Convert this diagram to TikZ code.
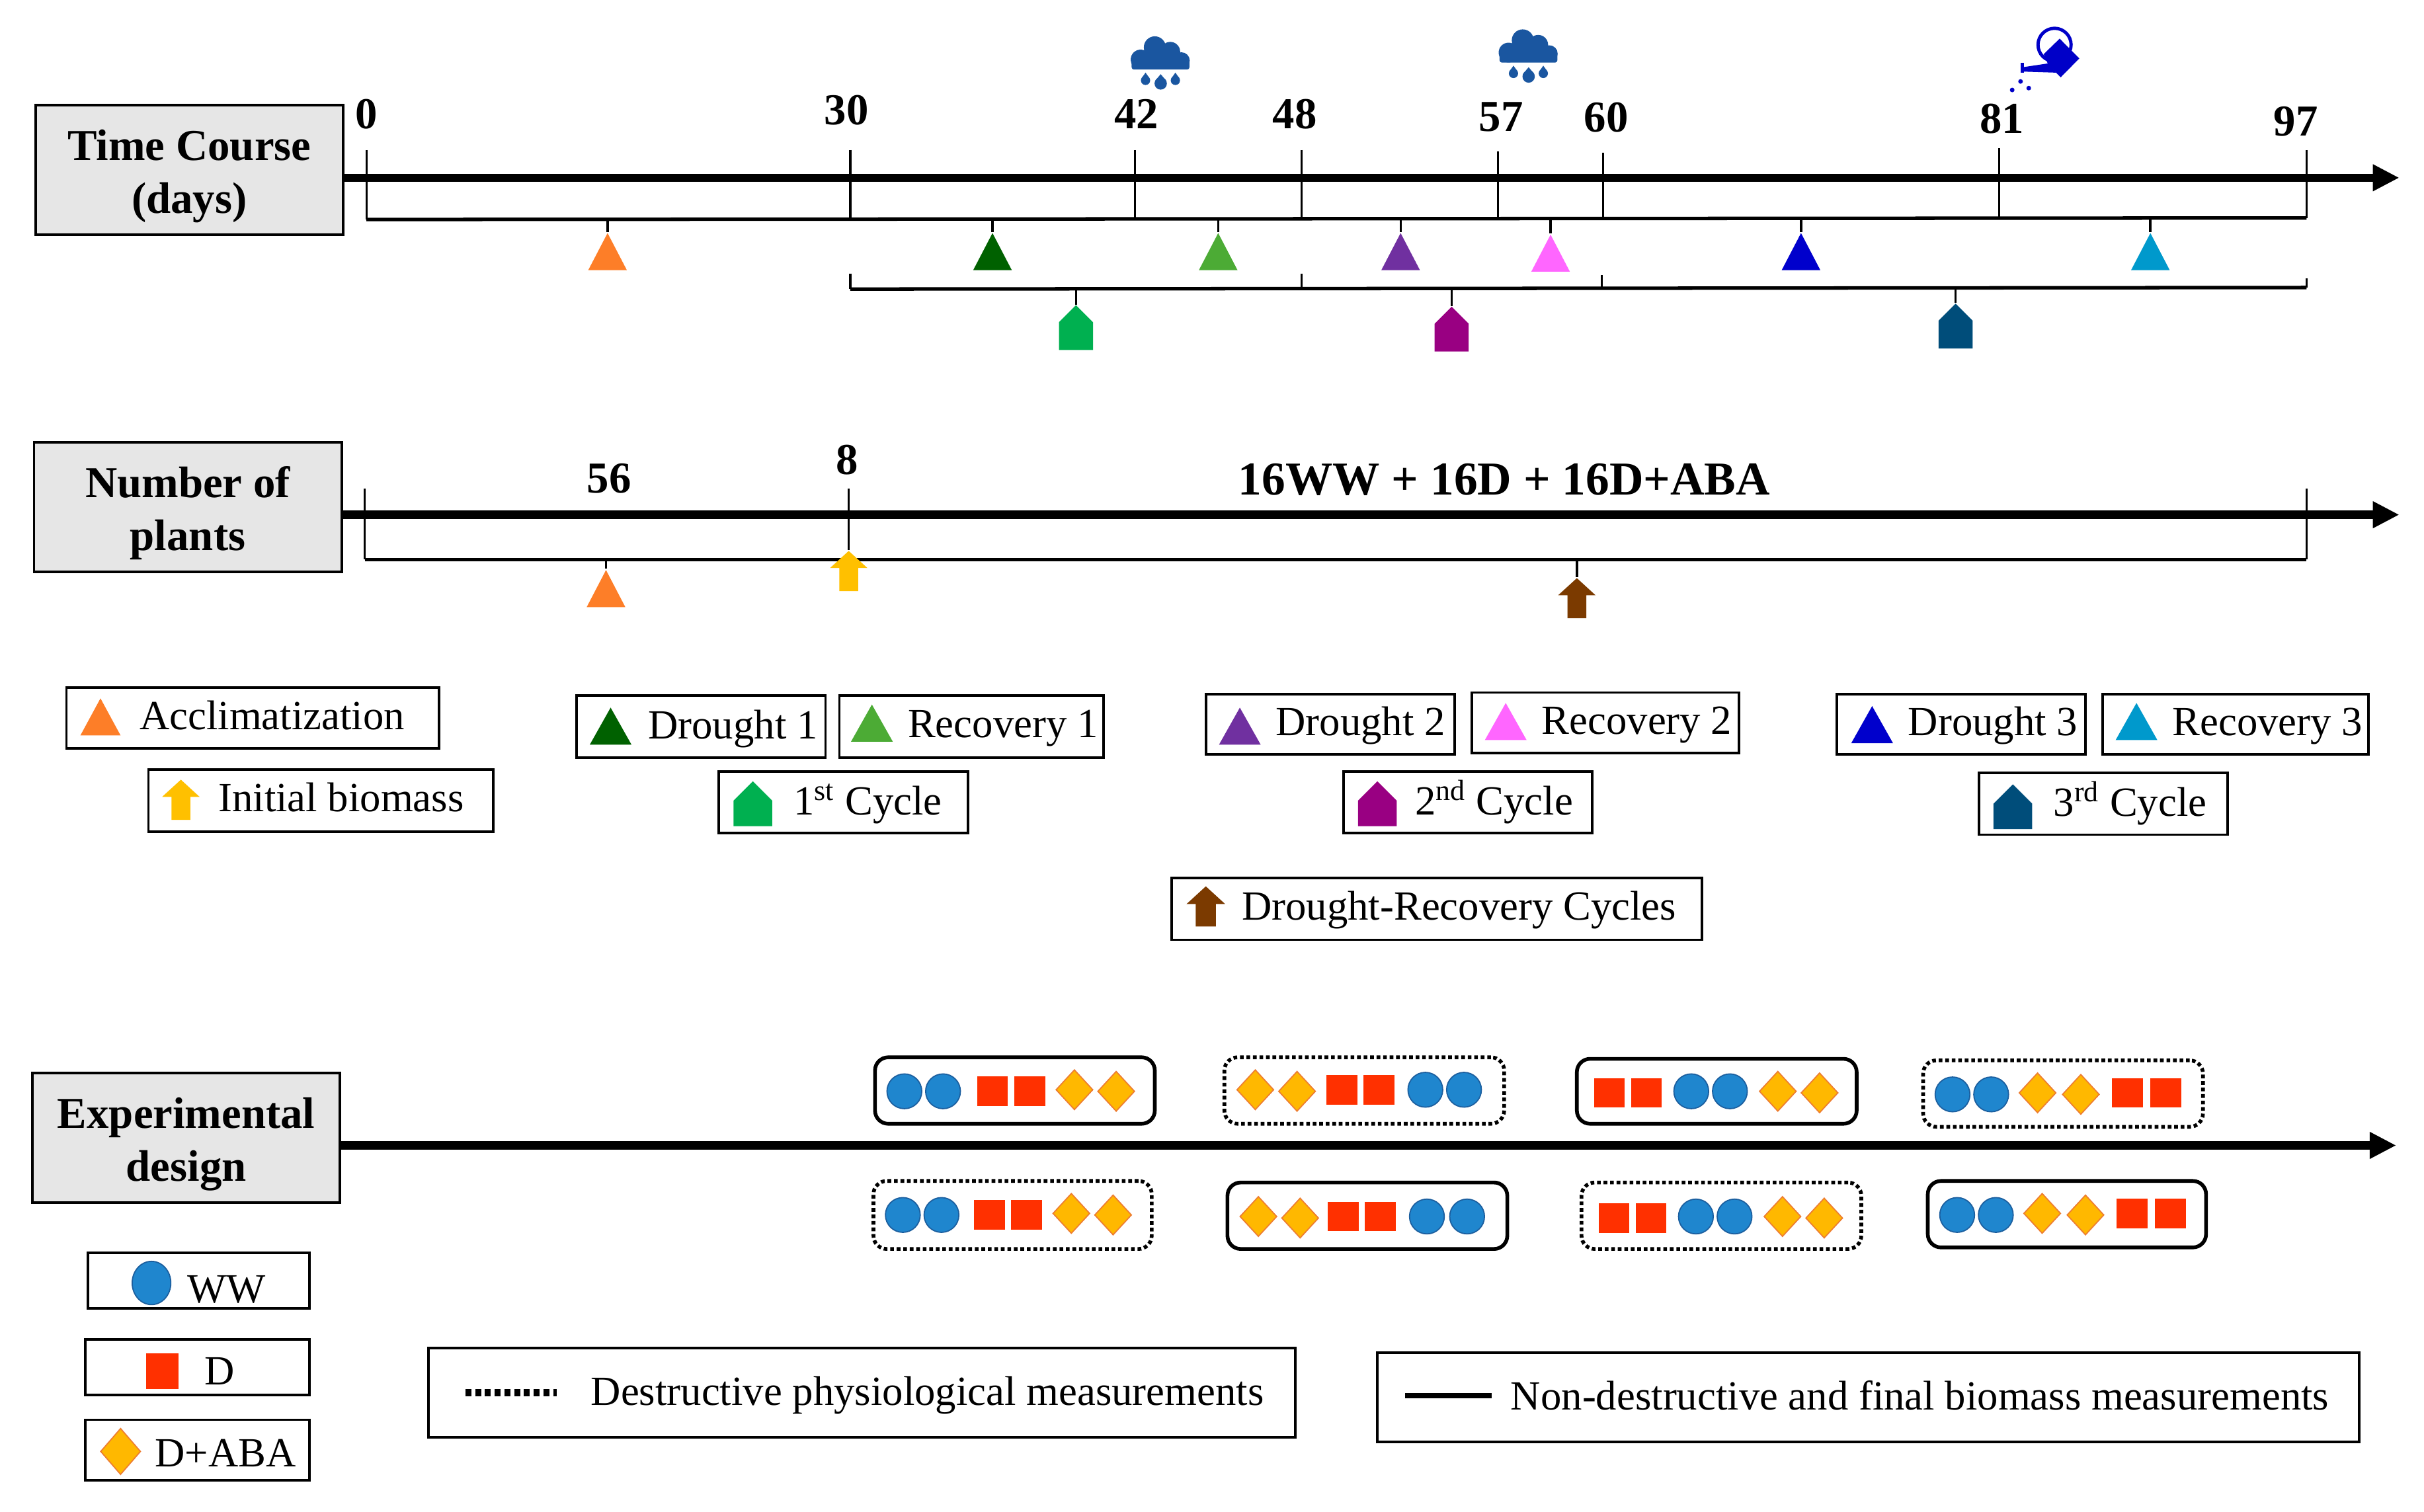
\documentclass[tikz,border=0pt]{standalone}
\usepackage{fontspec}
\setmainfont{Liberation Serif}
\usetikzlibrary{arrows.meta,shapes.geometric,shapes.arrows}
\definecolor{headgray}{HTML}{E6E6E6}
\definecolor{acclim}{HTML}{FD7E28}
\definecolor{droughtA}{HTML}{006100}
\definecolor{recovA}{HTML}{4CAB35}
\definecolor{droughtB}{HTML}{7030A0}
\definecolor{recovB}{HTML}{FF66FF}
\definecolor{droughtC}{HTML}{0000CC}
\definecolor{recovC}{HTML}{0099CC}
\definecolor{cycleA}{HTML}{00B050}
\definecolor{cycleB}{HTML}{990082}
\definecolor{cycleC}{HTML}{004D7A}
\definecolor{biomass}{HTML}{FFC000}
\definecolor{drcycle}{HTML}{7B3A00}
\definecolor{wwblue}{HTML}{1F86CE}
\definecolor{wwedge}{HTML}{1B5E9E}
\definecolor{dred}{HTML}{FF3000}
\definecolor{abayel}{HTML}{FFB800}
\definecolor{abaedge}{HTML}{ED7D31}
\definecolor{rainblue}{HTML}{1A56A0}
\definecolor{canblue}{HTML}{0000C8}
\newcommand{\headlift}{\rule{0pt}{18.7pt}}
\tikzset{
  box/.style 2 args={minimum width=#1*0.02338cm, minimum height=#2*0.02338cm, inner sep=0pt},
  headbox/.style={draw, fill=headgray, line width=1.1pt, align=center, font=\bfseries\fontsize{19}{22.7}\selectfont},
  legbox/.style={draw, line width=1.1pt},
  legtext/.style={anchor=base west, inner sep=0pt, font=\fontsize{17.85}{22}\selectfont},
  numtext/.style={anchor=base, inner sep=0pt, font=\bfseries\fontsize{19}{23}\selectfont},
  axisline/.style={line width=3.6pt, -{Triangle[length=4mm,width=3.8mm]}},
  tickline/.style={line width=0.9pt},
  bracketline/.style={line width=1.5pt},
  stemline/.style={line width=1pt},
  trimark/.style={isosceles triangle, isosceles triangle stretches, shape border rotate=90, inner sep=0pt, minimum width=25*0.02338cm, minimum height=24*0.02338cm, anchor=apex},
  housemark/.style={single arrow, shape border rotate=90, single arrow head extend=0pt, single arrow head indent=0pt, single arrow tip angle=90, inner sep=0pt, minimum width=22*0.02338cm, minimum height=29*0.02338cm, anchor=tip},
  upmark/.style={single arrow, shape border rotate=90, single arrow head extend=6*0.02338cm, single arrow head indent=0pt, single arrow tip angle=95, inner sep=5.8*0.02338cm, minimum height=26*0.02338cm, anchor=tip},
  solidgrp/.style={draw, rounded corners=2mm, line width=1.6pt},
  dotgrp/.style={draw, rounded corners=2mm, line width=1.6pt, dash pattern=on 1.6pt off 1.2pt},
  wwmark/.style={circle, draw=wwedge, line width=0.5pt, fill=wwblue, inner sep=0pt, minimum size=22.5*0.02338cm},
  dmark/.style={rectangle, fill=dred, box={20}{19}},
  abamark/.style={diamond, draw=abaedge, line width=0.5pt, fill=abayel, box={24}{26}},
  rainmark/.pic={
    \fill[rainblue] (-3,-9.4) circle (7.1) (7,-6.5) circle (6.4) (-12.2,-1.5) circle (6.4) (14.2,-0.8) circle (5.4);
    \fill[rainblue] (-10,-7) rectangle (12,2);
    \fill[rainblue, rounded corners=1pt] (-18,-2) rectangle (19.4,5);
    \fill[rainblue] (-9,12) circle (3) (0.8,14) circle (4) (10.3,12) circle (3);
    \fill[rainblue] (-11.5,10.5) -- (-9,7) -- (-6.5,10.5) -- cycle;
    \fill[rainblue] (-2.6,12) -- (0.8,8) -- (4.2,12) -- cycle;
    \fill[rainblue] (7.8,10.5) -- (10.3,7) -- (12.8,10.5) -- cycle;
  },
  canmark/.pic={
    \draw[canblue, line width=1.4pt] (-1,-6) circle (10.7);
    \fill[canblue] (2.3,-10) -- (15,2.8) -- (3,15) -- (-5,7) -- (-8,0) -- cycle;
    \fill[canblue] (-5,6) -- (-21.7,8.5) -- (-21.7,11.3) -- (0,12) -- cycle;
    \fill[canblue] (-23,5.6) rectangle (-21,12);
    \fill[canblue] (-23,17.7) circle (1.5) (-28.4,23.2) circle (1.5) (-17.7,22) circle (1.5);
  }
}
\begin{document}
\begin{tikzpicture}[x=0.02338cm, y=-0.02338cm]
    \useasboundingbox (0,0) rectangle (1568,977.8);
    % time course
    \node[headbox, box={199}{84}] (timebox) at (122.5,110) {\headlift Time Course\\(days)};
    \coordinate (timeend) at (1552,115);
    \draw [axisline] (timebox.east |- timeend) -- (timeend);
    \node[numtext] (n0) at (237,83) {0};
    \node[numtext] (n30) at (547.5,80.6) {30};
    \node[numtext] (n42) at (735,83) {42};
    \node[numtext] (n48) at (837.5,83) {48};
    \node[numtext] (n57) at (971,85) {57};
    \node[numtext] (n60) at (1039,85.5) {60};
    \node[numtext] (n81) at (1295,86) {81};
    \node[numtext] (n97) at (1485,88) {97};
    \coordinate (t0) at (237,97);
    \coordinate (t30) at (550,97);
    \coordinate (t42) at (734,97);
    \coordinate (t48) at (842,97);
    \coordinate (t57) at (969,98);
    \coordinate (t60) at (1037,99);
    \coordinate (t81) at (1293,96);
    \coordinate (t97) at (1492,97);
    \coordinate (b0) at (237,142);
    \coordinate (b30) at (550,142);
    \coordinate (b42) at (734,142);
    \coordinate (b48) at (842,142);
    \coordinate (b57) at (969,141);
    \coordinate (b60) at (1037,141);
    \coordinate (b81) at (1293,141);
    \coordinate (b97) at (1492,141);
    \draw [tickline] (t0) to (b0);
    \draw [tickline] (t30) to (b30);
    \draw [tickline] (t42) to (b42);
    \draw [tickline] (t48) to (b48);
    \draw [tickline] (t57) to (b57);
    \draw [tickline] (t60) to (b60);
    \draw [tickline] (t81) to (b81);
    \draw [tickline] (t97) to (b97);
    \draw [bracketline] (b0) to (b97);
    % phases below the time course
    \node[trimark, fill=acclim] (accl) at (393,150) {};
    \node[trimark, fill=droughtA] (dra) at (642,150) {};
    \node[trimark, fill=recovA] (rea) at (788,150) {};
    \node[trimark, fill=droughtB] (drb) at (906,150) {};
    \node[trimark, fill=recovB] (reb) at (1003,151) {};
    \node[trimark, fill=droughtC] (drc) at (1165,150) {};
    \node[trimark, fill=recovC] (rec) at (1391,150) {};
    \draw [stemline] (393,142) to (accl.apex);
    \draw [stemline] (642,142) to (dra.apex);
    \draw [stemline] (788,142) to (rea.apex);
    \draw [stemline] (906,141) to (drb.apex);
    \draw [stemline] (1003,141) to (reb.apex);
    \draw [stemline] (1165,141) to (drc.apex);
    \draw [stemline] (1391,141) to (rec.apex);
    % cycles
    \coordinate (ca) at (550,177);
    \coordinate (cb) at (842,177);
    \coordinate (cc) at (1036,178);
    \coordinate (cd) at (1492,180);
    \coordinate (da) at (550,187);
    \coordinate (db) at (842,187);
    \coordinate (dc) at (1036,186);
    \coordinate (dd) at (1492,186);
    \draw [tickline] (ca) to (da);
    \draw [tickline] (cb) to (db);
    \draw [tickline] (cc) to (dc);
    \draw [tickline] (cd) to (dd);
    \draw [bracketline] (da) to (dd);
    \node[housemark, fill=cycleA] (cya) at (696,197) {};
    \node[housemark, fill=cycleB] (cyb) at (939,198) {};
    \node[housemark, fill=cycleC] (cyc) at (1265,196) {};
    \draw [stemline] (696,187) to (cya.tip);
    \draw [stemline] (939,187) to (cyb.tip);
    \draw [stemline] (1265,186) to (cyc.tip);
    \pic (raina) at (750,40) {rainmark};
    \pic (rainb) at (988,35.5) {rainmark};
    \pic (can) at (1330,35) {canmark};
    % number of plants
    \node[headbox, box={199}{84}] (plantbox) at (121.5,328) {\headlift Number of\\plants};
    \coordinate (plantend) at (1552,333);
    \draw [axisline] (plantbox.east |- plantend) -- (plantend);
    \node[numtext] (p56) at (394,319) {56};
    \node[numtext] (p8) at (548,307) {8};
    \node[numtext, font=\bfseries\fontsize{20.3}{24}\selectfont] (pall) at (973,320) {16WW + 16D + 16D+ABA};
    \coordinate (u0) at (236,316);
    \coordinate (u8) at (549,316);
    \coordinate (u97) at (1492,316);
    \coordinate (v0) at (236,362);
    \coordinate (v97) at (1492,362);
    \draw [tickline] (u0) to (v0);
    \draw [tickline] (u97) to (v97);
    \draw [bracketline] (v0) to (v97);
    \node[trimark, fill=acclim] (acclp) at (392,368) {};
    \node[upmark, fill=biomass] (initp) at (549,356) {};
    \node[upmark, fill=drcycle] (cyclp) at (1020,373.6) {};
    \draw [stemline] (392,362) to (acclp.apex);
    \draw [stemline] (u8) to (initp.tip);
    \draw [stemline] (1020,362) to (cyclp.tip);
    % legend of the phases
    \node[legbox, box={241}{39}] (la) at (163.5,464.5) {};
    \node[trimark, fill=acclim, minimum width=26*0.02338cm] (lam) at (65,451) {};
    \node[legtext] (lat) at (90,472) {Acclimatization};
    \node[legbox, box={223}{40}] (lb) at (207.5,518) {};
    \node[upmark, fill=biomass] (lbm) at (117,504) {};
    \node[legtext] (lbt) at (141,525) {Initial biomass};
    \node[legbox, box={161}{40}] (lc) at (453.5,470) {};
    \node[trimark, fill=droughtA, minimum width=27*0.02338cm] (lcm) at (395,457) {};
    \node[legtext] (lct) at (419,478) {Drought 1};
    \node[legbox, box={171}{40}] (ld) at (628.5,470) {};
    \node[trimark, fill=recovA, minimum width=27*0.02338cm] (ldm) at (564,455) {};
    \node[legtext] (ldt) at (587,477) {Recovery 1};
    \node[legbox, box={161}{40}] (le) at (545.5,519) {};
    \node[housemark, fill=cycleA, minimum width=25*0.02338cm] (lem) at (487,505) {};
    \node[legtext] (let) at (513,527) {1\textsuperscript{st} Cycle};
    \node[legbox, box={161}{39}] (lf) at (860.5,468.5) {};
    \node[trimark, fill=droughtB, minimum width=27*0.02338cm] (lfm) at (802,457) {};
    \node[legtext] (lft) at (825,476) {Drought 2};
    \node[legbox, box={173}{39}] (lg) at (1038.5,467.5) {};
    \node[trimark, fill=recovB, minimum width=27*0.02338cm] (lgm) at (974,454) {};
    \node[legtext] (lgt) at (997,475) {Recovery 2};
    \node[legbox, box={161}{40}] (lh) at (949.5,519) {};
    \node[housemark, fill=cycleB, minimum width=25*0.02338cm] (lhm) at (891,505) {};
    \node[legtext] (lht) at (915,527) {2\textsuperscript{nd} Cycle};
    \node[legbox, box={343}{40}] (li) at (929.5,588) {};
    \node[upmark, fill=drcycle, inner sep=6.2*0.02338cm] (lim) at (780,573) {};
    \node[legtext] (lit) at (803,595) {Drought-Recovery Cycles};
    \node[legbox, box={161}{39}] (lj) at (1268.5,468.5) {};
    \node[trimark, fill=droughtC, minimum width=27*0.02338cm] (ljm) at (1211,456) {};
    \node[legtext] (ljt) at (1234,476) {Drought 3};
    \node[legbox, box={172}{39}] (lk) at (1446,468.5) {};
    \node[trimark, fill=recovC, minimum width=27*0.02338cm] (lkm) at (1382,454) {};
    \node[legtext] (lkt) at (1405,476) {Recovery 3};
    \node[legbox, box={161}{40}] (ll) at (1360.5,520) {};
    \node[housemark, fill=cycleC, minimum width=25*0.02338cm] (llm) at (1302,507) {};
    \node[legtext] (llt) at (1328,528) {3\textsuperscript{rd} Cycle};
    % experimental design
    \node[headbox, box={199}{84}] (expbox) at (120.5,736) {\headlift Experimental\\design};
    \coordinate (expend) at (1550,741);
    \draw [axisline] (expbox.east |- expend) -- (expend);
    \node[solidgrp, box={181}{43}] (ga) at (656.5,705.5) {};
    \node[wwmark] (ga1) at (585,706) {};
    \node[wwmark] (ga2) at (610,706) {};
    \node[dmark] (ga3) at (642,706) {};
    \node[dmark] (ga4) at (666,706) {};
    \node[abamark] (ga5) at (695,705) {};
    \node[abamark] (ga6) at (722,706) {};
    \node[dotgrp, box={181}{43}] (gb) at (882.5,705.5) {};
    \node[abamark] (gb1) at (812,705) {};
    \node[abamark] (gb2) at (839,706) {};
    \node[dmark] (gb3) at (868,705) {};
    \node[dmark] (gb4) at (892,705) {};
    \node[wwmark] (gb5) at (922,705) {};
    \node[wwmark] (gb6) at (947,705) {};
    \node[solidgrp, box={181}{42}] (gc) at (1110.5,706) {};
    \node[dmark] (gc1) at (1041,707) {};
    \node[dmark] (gc2) at (1065,707) {};
    \node[wwmark] (gc3) at (1094,706) {};
    \node[wwmark] (gc4) at (1119,706) {};
    \node[abamark] (gc5) at (1150,706) {};
    \node[abamark] (gc6) at (1177,707) {};
    \node[dotgrp, box={181}{43}] (gd) at (1334.5,707.5) {};
    \node[wwmark] (gd1) at (1263,708) {};
    \node[wwmark] (gd2) at (1288,708) {};
    \node[abamark] (gd3) at (1318,707) {};
    \node[abamark] (gd4) at (1346,708) {};
    \node[dmark] (gd5) at (1376,707) {};
    \node[dmark] (gd6) at (1401,707) {};
    \node[dotgrp, box={180}{44}] (ge) at (655,786) {};
    \node[wwmark] (ge1) at (584,786) {};
    \node[wwmark] (ge2) at (609,786) {};
    \node[dmark] (ge3) at (640,786) {};
    \node[dmark] (ge4) at (664,786) {};
    \node[abamark] (ge5) at (693,785) {};
    \node[abamark] (ge6) at (720,786) {};
    \node[solidgrp, box={181}{43}] (gf) at (884.5,786.5) {};
    \node[abamark] (gf1) at (814,787) {};
    \node[abamark] (gf2) at (841,788) {};
    \node[dmark] (gf3) at (869,787) {};
    \node[dmark] (gf4) at (893,787) {};
    \node[wwmark] (gf5) at (923,787) {};
    \node[wwmark] (gf6) at (949,787) {};
    \node[dotgrp, box={181}{43}] (gg) at (1113.5,786.5) {};
    \node[dmark] (gg1) at (1044,788) {};
    \node[dmark] (gg2) at (1068,788) {};
    \node[wwmark] (gg3) at (1097,787) {};
    \node[wwmark] (gg4) at (1122,787) {};
    \node[abamark] (gg5) at (1153,787) {};
    \node[abamark] (gg6) at (1180,788) {};
    \node[solidgrp, box={180}{43}] (gh) at (1337,785.5) {};
    \node[wwmark] (gh1) at (1266,786) {};
    \node[wwmark] (gh2) at (1291,786) {};
    \node[abamark] (gh3) at (1321,785) {};
    \node[abamark] (gh4) at (1349,786) {};
    \node[dmark] (gh5) at (1379,785) {};
    \node[dmark] (gh6) at (1404,785) {};
    % treatments
    \node[legbox, box={143}{36}] (lw) at (128.5,828.5) {};
    \node[ellipse, draw=wwedge, line width=0.5pt, fill=wwblue, box={25}{28}] (lwm) at (98,830) {};
    \node[legtext] (lwt) at (121,843) {WW};
    \node[legbox, box={145}{36}] (lx) at (127.5,884.5) {};
    \node[dmark, box={21}{23}] (lxm) at (105,887) {};
    \node[legtext] (lxt) at (132,896) {D};
    \node[legbox, box={145}{39}] (ly) at (127.5,938) {};
    \node[abamark, box={26}{30}] (lym) at (78,939) {};
    \node[legtext] (lyt) at (100,949) {D+ABA};
    % line styles
    \node[legbox, box={561}{58}] (lz) at (557.5,901) {};
    \coordinate (lza) at (301,901);
    \coordinate (lzb) at (360,901);
    \draw [line width=3pt, dash pattern=on 2.6pt off 1.6pt] (lza) to (lzb);
    \node[legtext] (lzt) at (382,909) {Destructive physiological measurements};
    \node[legbox, box={635}{58}] (lq) at (1208.5,904) {};
    \coordinate (lqa) at (909,903);
    \coordinate (lqb) at (965,903);
    \draw [line width=2.4pt] (lqa) to (lqb);
    \node[legtext] (lqt) at (977,912) {Non-destructive and final biomass measurements};
  \end{tikzpicture}
\end{document}
